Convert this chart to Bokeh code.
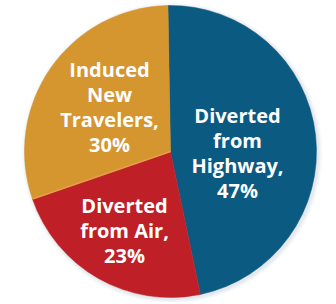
import math
from bokeh.plotting import figure
from bokeh.models import ColumnDataSource, Range1d
from bokeh.core.properties import value
from bokeh.embed import file_html
from bokeh.resources import INLINE

# ---- data ----
categories = ["Diverted from Highway", "Diverted from Air", "Induced New Travelers"]
shares = [47, 23, 30]
label_lines = [["Diverted", "from", "Highway,", "47%"],
               ["Diverted", "from Air,", "23%"],
               ["Induced", "New", "Travelers,", "30%"]]
colors = ["#0b5a82", "#bf2027", "#d5952f"]

# ---- layout constants ----
W, H = 334, 302
CX, CY, R = 170, 151, 146
START_DEG = 91.0
label_offsets = [(67, 36), (-46, -54), (-61, 82)]  # first baseline relative to center
LINE_STEP = 25

p = figure(width=W, height=H, output_backend="svg", toolbar_location=None,
           x_range=Range1d(0, W), y_range=Range1d(0, H), min_border=0)
p.axis.visible = False
p.grid.visible = False
p.outline_line_color = None
p.background_fill_color = "white"
p.border_fill_color = "white"

# soft shadow around the pie
for i, a in enumerate([0.05, 0.05, 0.04, 0.03, 0.02]):
    p.circle(x=[CX + 1.5], y=[CY - 1.5], radius=R + 1 + i, radius_units="screen",
             fill_color="#7a8a9a", fill_alpha=a, line_color=None)

total = sum(shares)
starts, ends = [], []
cur = math.radians(START_DEG)
for s in shares:
    span = 2 * math.pi * s / total
    ends.append(cur)
    starts.append(cur - span)
    cur -= span

src = ColumnDataSource(dict(x=[CX] * 3, y=[CY] * 3, start=starts, end=ends,
                            color=colors, cat=categories))
p.wedge(x="x", y="y", radius=R, radius_units="screen", start_angle="start",
        end_angle="end", fill_color="color", line_color="color", line_width=0.5,
        source=src)

# light seam between orange and red slices
ang = starts[1]
p.segment(x0=[CX], y0=[CY], x1=[CX + R * math.cos(ang)], y1=[CY + R * math.sin(ang)],
          line_color="#e6a04a", line_width=1.5)

xs, ys, ts = [], [], []
for lines, (dx, dy) in zip(label_lines, label_offsets):
    for k, t in enumerate(lines):
        xs.append(CX + dx)
        ys.append(CY + dy - k * LINE_STEP)
        ts.append(t)
p.text(x=xs, y=ys, text=ts, text_align="center", text_baseline="alphabetic",
       text_color="white", text_font=value("Open Sans"), text_font_style="bold",
       text_font_size="20px")

open("out.html", "w").write(file_html(p, INLINE))
